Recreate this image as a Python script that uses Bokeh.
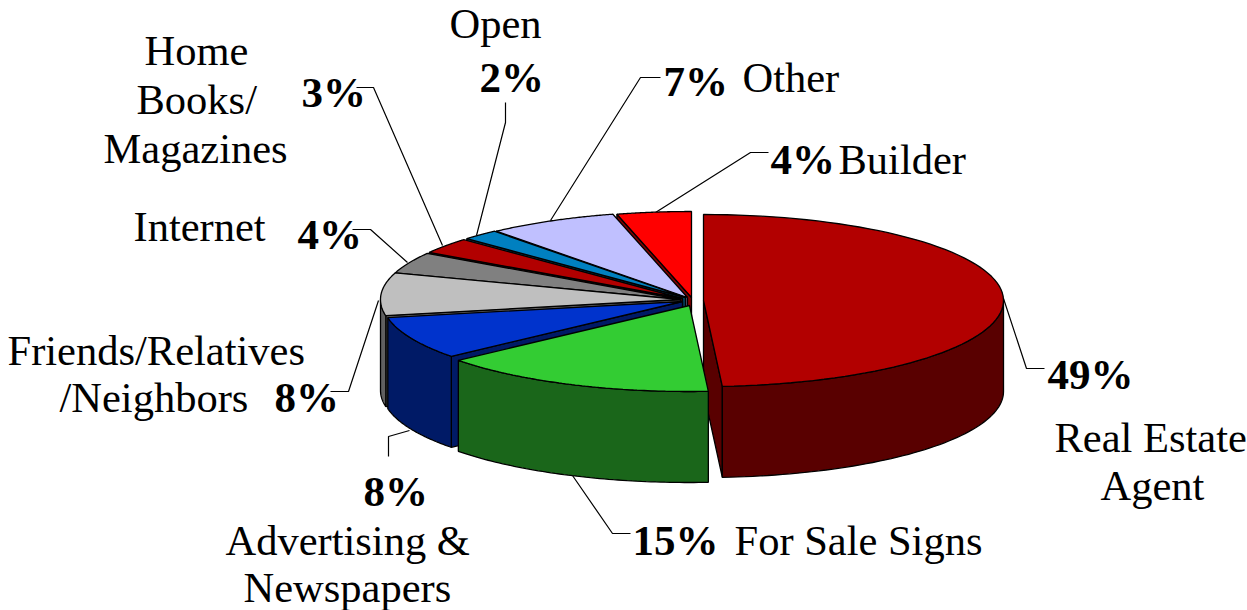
import numpy as np
from bokeh.plotting import figure
from bokeh.embed import file_html
from bokeh.resources import INLINE
from bokeh.core.properties import value

# ---- data ----
categories = ["Real Estate Agent", "For Sale Signs", "Advertising & Newspapers",
              "Friends/Relatives/Neighbors", "Internet", "Home Books/Magazines",
              "Open", "Other", "Builder"]
shares = [49, 15, 8, 8, 4, 3, 2, 7, 4]

# ---- styles and layout ----
top_colors = ["#B20000", "#33CC33", "#0033CC", "#BFBFBF", "#808080",
              "#B20000", "#0080C0", "#C0C0FF", "#FF0000"]
side_colors = ["#590000", "#1A661A", "#001A66", "#606060", "#404040",
               "#590000", "#004060", "#606080", "#800000"]
centers = [(703, 300), (689, 305), (682, 301), (680, 299), (680, 299),
           (682, 298), (685, 297), (687, 297), (691, 297)]
draw_order = [8, 7, 6, 5, 4, 3, 0, 2, 1]
RX, RY, DEPTH = 300, 86, 91
FONT = value("Liberation Serif")
TEXT_SHIFT = -15

leaders = [
    ([1003, 1026, 1044], [298, 368, 368]),
    ([572, 612, 630], [475, 533, 533]),
    ([409, 388, 388], [430, 436, 456]),
    ([378, 348, 330], [300, 391, 391]),
    ([407, 370, 352], [262, 229, 229]),
    ([442, 373, 356], [245, 87, 87]),
    ([476, 505, 505], [235, 122, 102]),
    ([550, 640, 660], [220, 77, 77]),
    ([655, 750, 768], [212, 152, 152]),
]
pct_labels = [(f"{s}%", x, y) for s, (x, y) in zip(
    shares, [(1047, 389), (632, 555), (363, 506), (274, 412), (297, 249),
             (301, 107), (479, 92), (663, 96), (770, 174)])]
name_labels = [
    ("Real Estate", 1054, 452), ("Agent", 1100, 500), ("For Sale Signs", 734, 555),
    ("Advertising &", 225, 555), ("Newspapers", 243, 602),
    ("Friends/Relatives", 7, 365), ("/Neighbors", 59, 412), ("Internet", 133, 241),
    ("Home", 144, 65), ("Books/", 136, 114), ("Magazines", 103, 163),
    ("Open", 449, 38), ("Other", 742, 92), ("Builder", 838, 174),
]

p = figure(width=1247, height=610, x_range=(0, 1247), y_range=(610, 0),
           output_backend="svg", toolbar_location=None, min_border=0)
p.axis.visible = False
p.grid.visible = False
p.outline_line_color = None
p.background_fill_color = "white"
p.border_fill_color = "white"


def rim(c, deg):
    t = np.radians(deg)
    return c[0] + RX * np.sin(t), c[1] - RY * np.cos(t)


ends = np.cumsum(shares) * 3.6
starts = ends - np.array(shares) * 3.6

xs, ys, fills = [], [], []
for i in draw_order:
    a, b, c = starts[i], ends[i], centers[i]
    # cut face turned towards the viewer
    cut = a if 180 <= a < 360 else (b if 0 < b < 180 else None)
    if cut is not None:
        rx_, ry_ = rim(c, cut)
        xs.append([c[0], rx_, rx_, c[0]])
        ys.append([c[1], ry_, ry_ + DEPTH, c[1] + DEPTH])
        fills.append(side_colors[i])
    # outer wall, only on the front half
    lo, hi = max(a, 90), min(b, 270)
    if lo < hi:
        th = np.linspace(lo, hi, 60)
        wx, wy = rim(c, th)
        xs.append(list(wx) + list(wx[::-1]))
        ys.append(list(wy) + list((wy + DEPTH)[::-1]))
        fills.append(side_colors[i])
    # top face
    th = np.linspace(a, b, 80)
    tx, ty = rim(c, th)
    xs.append([c[0]] + list(tx))
    ys.append([c[1]] + list(ty))
    fills.append(top_colors[i])

p.multi_line([l[0] for l in leaders], [l[1] for l in leaders],
             line_color="black", line_width=1.2)
p.patches(xs, ys, fill_color=fills, line_color="black", line_width=1.3)

p.text([t[1] for t in name_labels], [t[2] for t in name_labels],
       text=[t[0] for t in name_labels], text_font=FONT, text_font_size="42.5px",
       text_baseline="alphabetic", text_align="left", text_color="black",
       y_offset=TEXT_SHIFT)
p.text([t[1] for t in pct_labels], [t[2] for t in pct_labels],
       text=[t[0] for t in pct_labels], text_font=FONT, text_font_size="43px",
       text_font_style="bold", text_baseline="alphabetic", text_align="left",
       text_color="black", y_offset=TEXT_SHIFT)

open("out.html", "w").write(file_html(p, INLINE))
